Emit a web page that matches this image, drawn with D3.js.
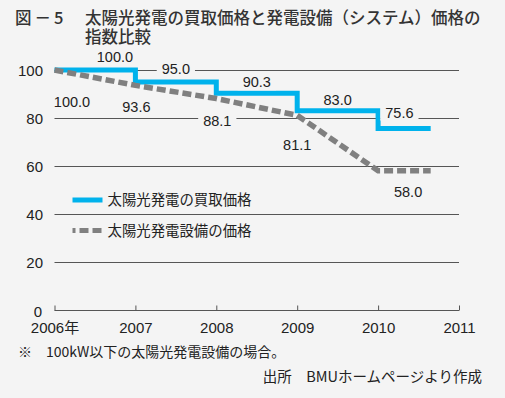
<!DOCTYPE html>
<html><head><meta charset="utf-8">
<script src="https://cdn.jsdelivr.net/npm/d3@7"></script>
<style>
html,body{margin:0;padding:0;background:#f4f4f4;}
svg{display:block;}
text{font-family:"Liberation Sans","Noto Sans CJK JP",sans-serif;fill:#222;}
.cjk{font-family:"Noto Sans CJK JP","Liberation Sans",sans-serif;}
</style></head>
<body>
<script>
// ---- data ----
const years = [2006, 2007, 2008, 2009, 2010];
const lineEndYear = 2010.65;
const feedInTariff = [100.0, 95.0, 90.3, 83.0, 75.6];   // 太陽光発電の買取価格
const systemPrice = [100.0, 93.6, 88.1, 81.1, 58.0];    // 太陽光発電設備の価格
const yTicks = [0, 20, 40, 60, 80, 100];
const xTicks = [2006, 2007, 2008, 2009, 2010, 2011];
const xTickLabels = ["2006年", "2007", "2008", "2009", "2010", "2011"];
const seriesNames = ["太陽光発電の買取価格", "太陽光発電設備の価格"];
const titleLines = ["図－5", "太陽光発電の買取価格と発電設備（システム）価格の", "指数比較"];
const footnote = "※　100kW以下の太陽光発電設備の場合。";
const source = "出所　BMUホームページより作成";

const W = 505, H = 398;
const blue = "#00b2ec", gray = "#808080";
const svg = d3.select("body").append("svg").attr("width", W).attr("height", H);
svg.append("rect").attr("width", W).attr("height", H).attr("fill", "#f4f4f4");

const x = d3.scaleLinear().domain([2006, 2011]).range([54.5, 459]);
const y = d3.scaleLinear().domain([0, 100]).range([310, 70]);

// title
svg.append("text").attr("class","cjk").attr("x", 15).attr("y", 24).attr("font-size", 16.5).attr("font-weight", 500)
  .attr("letter-spacing", 3).style("fill","#333").text(titleLines[0]);
const tt = svg.append("text").attr("class","cjk").attr("font-size", 16.5).attr("font-weight", 500).style("fill","#333");
tt.append("tspan").attr("x", 85).attr("y", 24).text(titleLines[1]);
tt.append("tspan").attr("x", 85).attr("y", 42.5).text(titleLines[2]);

// gridlines
const grid = svg.append("g");
grid.selectAll("line").data(yTicks.filter(d => d > 0)).join("line")
  .attr("x1", x(2006)).attr("x2", x(2011))
  .attr("y1", d => y(d) + 0.5).attr("y2", d => y(d) + 0.5)
  .attr("stroke", "#555").attr("stroke-width", 1);

// y axis labels
const yAxis = d3.axisLeft(y).tickValues(yTicks).tickSize(0).tickPadding(0);
const gy = svg.append("g").attr("transform", `translate(43,0)`).call(yAxis);
gy.select(".domain").remove();
gy.selectAll("text").attr("font-size", 15).attr("font-family", "Liberation Sans").style("fill","#222").attr("dy", "0.35em");
gy.selectAll("text").filter(d => d === 0).attr("dy", "0.4em").attr("x", -1);

// x axis
const xAxis = d3.axisTop(x).tickValues(xTicks).tickSize(5).tickFormat((d, i) => xTickLabels[i]);
const gx = svg.append("g").attr("transform", `translate(0,${y(0) + 0.5})`).call(xAxis);
gx.select(".domain").attr("stroke", "#555").attr("d", `M${x(2006)},0H${x(2011)}`);
gx.selectAll(".tick line").attr("stroke", "#555");
gx.selectAll("text").attr("font-size", 15).attr("font-family", "Liberation Sans, Noto Sans CJK JP").style("fill","#222")
  .attr("y", 22.5).attr("dy", 0);

// series
const bluePts = years.map((yr, i) => [yr, feedInTariff[i]]).concat([[lineEndYear, feedInTariff[feedInTariff.length - 1]]]);
const grayPts = years.map((yr, i) => [yr, systemPrice[i]]).concat([[lineEndYear, systemPrice[systemPrice.length - 1]]]);

const stepLine = d3.line().x(d => x(d[0])).y(d => y(d[1])).curve(d3.curveStepAfter);
const straight = d3.line().x(d => x(d[0])).y(d => y(d[1]));

svg.append("path").attr("d", stepLine(bluePts)).attr("fill", "none")
  .attr("stroke", blue).attr("stroke-width", 5).attr("stroke-linejoin", "miter");
svg.append("path").attr("d", straight(grayPts)).attr("fill", "none")
  .attr("stroke", gray).attr("stroke-width", 5.5).attr("stroke-dasharray", "9,4");

// labels
const bg = "#f4f4f4";
function label(tx, ty, str, withBg) {
  const t = svg.append("text").attr("x", tx).attr("y", ty).attr("text-anchor", "middle")
    .attr("font-size", 14.5).text(str);
  if (withBg) {
    const b = t.node().getBBox();
    svg.insert("rect", () => t.node()).attr("x", b.x - 5).attr("y", b.y).attr("width", b.width + 10).attr("height", b.height).attr("fill", bg);
  }
}
const blueDx = [20, 0, 0, 0, -5];
const blueDy = [-8, -8, -6, -6, -11];
feedInTariff.forEach((v, i) => {
  const xm = (x(years[i]) + x(i < years.length - 1 ? years[i + 1] : lineEndYear)) / 2 + blueDx[i];
  label(xm, y(v) + blueDy[i], v.toFixed(1), true);
});
const grayDx = [17.5, 1, 1, 0, 30];
const grayDy = [37, 27, 27, 35, 26];
systemPrice.forEach((v, i) => {
  label(x(years[i]) + grayDx[i], y(v) + grayDy[i], v.toFixed(1), true);
});

// legend
const lg = svg.append("g");
lg.append("line").attr("x1", 72.5).attr("x2", 102.5).attr("y1", 200).attr("y2", 200).attr("stroke", blue).attr("stroke-width", 5);
lg.append("line").attr("x1", 72.5).attr("x2", 102.5).attr("y1", 230.5).attr("y2", 230.5).attr("stroke", gray).attr("stroke-width", 5)
  .attr("stroke-dasharray", "9,4").attr("stroke-dashoffset", 6);
lg.append("text").attr("class","cjk").attr("x", 107.5).attr("y", 205).attr("font-size", 14.4).text(seriesNames[0]);
lg.append("text").attr("class","cjk").attr("x", 107.5).attr("y", 235.5).attr("font-size", 14.4).text(seriesNames[1]);

// notes
svg.append("text").attr("class","cjk").attr("x", 18).attr("y", 357).attr("font-size", 14).text(footnote);
svg.append("text").attr("class","cjk").attr("x", 482).attr("y", 382).attr("text-anchor", "end").attr("font-size", 14.5).text(source);
</script>
</body></html>
